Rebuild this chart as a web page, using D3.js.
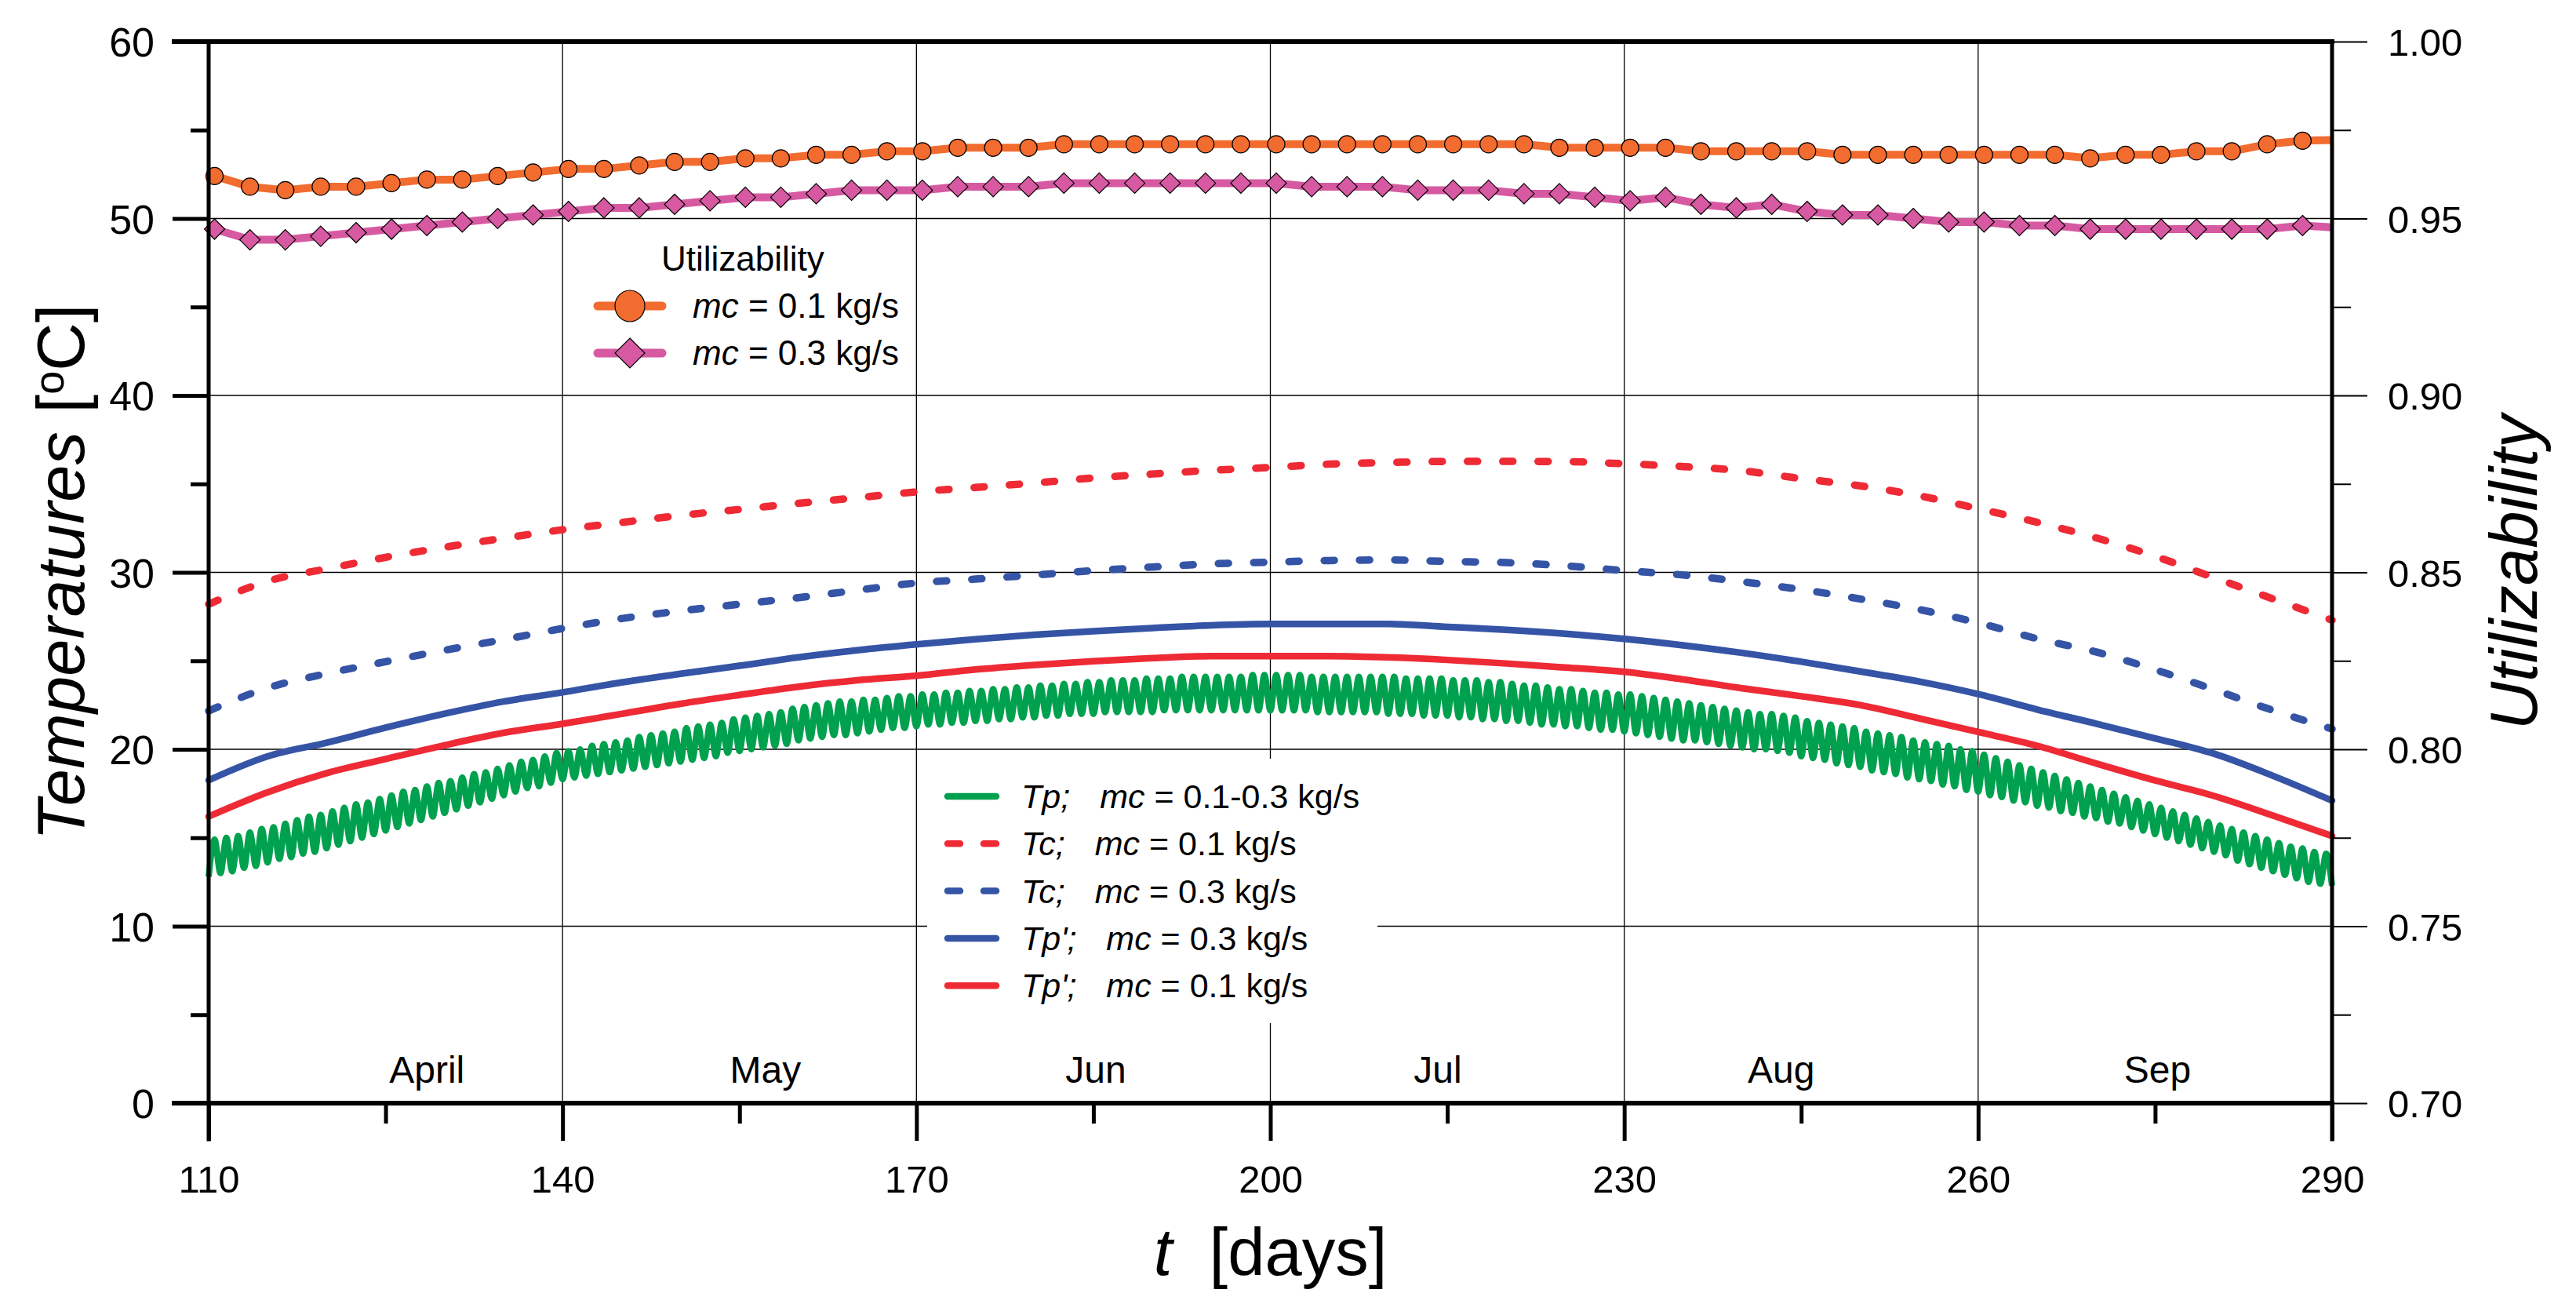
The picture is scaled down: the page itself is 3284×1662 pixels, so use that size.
<!DOCTYPE html>
<html>
<head>
<meta charset="utf-8">
<script src="https://cdn.jsdelivr.net/npm/d3@7"></script>
<style>
  html, body { margin: 0; padding: 0; background: #fff; }
  svg { display: block; }
</style>
</head>
<body>
<div id="chart"></div>
<script>
(function() {
  'use strict';

  // ---- data ----
  // smooth temperature curves, sampled every 5 days from day 110 to 290
  var tDays = d3.range(110, 291, 5);
  var tcMc01 = [28.2, 29.5, 30.2, 30.85, 31.42, 31.93, 32.41, 32.82, 33.22, 33.56, 33.9, 34.22,
    34.55, 34.8, 35.05, 35.34, 35.56, 35.77, 35.93, 36.12, 36.21, 36.27, 36.27, 36.26, 36.14,
    35.98, 35.74, 35.3, 34.89, 34.33, 33.6, 32.83, 31.95, 30.91, 29.7, 28.5, 27.3];
  var tcMc03 = [22.17, 23.47, 24.28, 24.95, 25.6, 26.2, 26.83, 27.39, 27.82, 28.2, 28.57, 28.99,
    29.4, 29.62, 29.85, 30.1, 30.3, 30.48, 30.58, 30.67, 30.7, 30.62, 30.55, 30.37, 30.1,
    29.85, 29.47, 29.03, 28.5, 27.9, 27.15, 26.25, 25.5, 24.5, 23.37, 22.2, 21.15];
  var tpPrimeMc03 = [18.25, 19.6, 20.37, 21.22, 22.01, 22.7, 23.22, 23.78, 24.27, 24.72, 25.2, 25.6,
    25.93, 26.22, 26.47, 26.67, 26.85, 27.01, 27.08, 27.08, 27.08, 26.92, 26.75, 26.53, 26.24,
    25.88, 25.45, 24.95, 24.4, 23.83, 23.12, 22.25, 21.45, 20.62, 19.75, 18.5, 17.1];
  var tpPrimeMc01 = [16.2, 17.57, 18.65, 19.45, 20.23, 20.93, 21.44, 22.0, 22.57, 23.07, 23.54, 23.9,
    24.16, 24.51, 24.77, 24.98, 25.15, 25.27, 25.27, 25.27, 25.2, 25.05, 24.85, 24.62, 24.38,
    23.95, 23.45, 23.0, 22.5, 21.75, 20.98, 20.2, 19.2, 18.24, 17.36, 16.25, 15.1];

  // Tp swings once a day: daily lows at day 110..290, daily highs at day 110.5..289.5
  var tpTroughs = [
    12.8, 13.0, 13.1, 13.3, 13.4, 13.6, 13.8, 13.9, 14.1, 14.2,
    14.4, 14.6, 14.8, 15.0, 15.2, 15.4, 15.6, 15.8, 16.0, 16.2,
    16.4, 16.6, 16.8, 17.0, 17.2, 17.4, 17.6, 17.8, 17.9, 18.1,
    18.3, 18.4, 18.5, 18.6, 18.7, 18.8, 18.9, 19.0, 19.1, 19.2,
    19.3, 19.4, 19.5, 19.6, 19.8, 19.9, 20.0, 20.1, 20.2, 20.3,
    20.5, 20.6, 20.7, 20.8, 20.8, 20.9, 21.0, 21.1, 21.2, 21.2,
    21.3, 21.4, 21.4, 21.5, 21.5, 21.6, 21.6, 21.7, 21.7, 21.8,
    21.8, 21.9, 21.9, 22.0, 22.0, 22.0, 22.1, 22.1, 22.1, 22.1,
    22.1, 22.2, 22.2, 22.2, 22.2, 22.2, 22.2, 22.2, 22.2, 22.2,
    22.2, 22.2, 22.2, 22.2, 22.1, 22.1, 22.1, 22.1, 22.1, 22.1,
    22.0, 22.0, 22.0, 21.9, 21.9, 21.9, 21.8, 21.8, 21.7, 21.7,
    21.6, 21.6, 21.5, 21.4, 21.4, 21.3, 21.3, 21.2, 21.1, 21.1,
    21.0, 20.9, 20.8, 20.7, 20.6, 20.5, 20.5, 20.4, 20.3, 20.2,
    20.1, 20.0, 20.0, 19.9, 19.8, 19.6, 19.5, 19.4, 19.2, 19.1,
    19.0, 18.8, 18.7, 18.6, 18.4, 18.3, 18.2, 18.0, 17.9, 17.7,
    17.6, 17.4, 17.3, 17.1, 17.0, 16.8, 16.7, 16.5, 16.4, 16.2,
    16.1, 15.9, 15.8, 15.6, 15.4, 15.2, 15.0, 14.8, 14.6, 14.4,
    14.2, 14.0, 13.7, 13.5, 13.3, 13.1, 12.9, 12.7, 12.5, 12.4,
    12.3];
  var tpPeaks = [
    14.9, 15.0, 15.1, 15.3, 15.5, 15.6, 15.8, 16.0, 16.2, 16.3,
    16.5, 16.7, 16.9, 17.0, 17.2, 17.4, 17.6, 17.7, 17.9, 18.1,
    18.2, 18.4, 18.6, 18.7, 18.9, 19.1, 19.3, 19.4, 19.6, 19.8,
    19.9, 20.0, 20.2, 20.3, 20.4, 20.5, 20.7, 20.8, 20.9, 21.0,
    21.2, 21.3, 21.4, 21.5, 21.7, 21.8, 21.9, 22.0, 22.1, 22.3,
    22.4, 22.5, 22.6, 22.7, 22.7, 22.8, 22.8, 22.9, 23.0, 23.0,
    23.1, 23.1, 23.2, 23.2, 23.3, 23.3, 23.4, 23.4, 23.5, 23.5,
    23.6, 23.6, 23.7, 23.7, 23.8, 23.8, 23.9, 23.9, 23.9, 24.0,
    24.0, 24.0, 24.1, 24.1, 24.1, 24.1, 24.1, 24.1, 24.2, 24.2,
    24.2, 24.2, 24.2, 24.1, 24.1, 24.1, 24.1, 24.1, 24.1, 24.1,
    24.1, 24.0, 24.0, 24.0, 24.0, 23.9, 23.9, 23.9, 23.8, 23.8,
    23.7, 23.6, 23.6, 23.5, 23.4, 23.4, 23.3, 23.2, 23.2, 23.1,
    23.1, 23.0, 22.9, 22.8, 22.7, 22.6, 22.5, 22.4, 22.3, 22.2,
    22.1, 22.0, 22.0, 21.9, 21.8, 21.6, 21.5, 21.4, 21.3, 21.2,
    21.0, 20.9, 20.8, 20.7, 20.5, 20.4, 20.3, 20.2, 20.0, 19.9,
    19.7, 19.5, 19.3, 19.1, 18.9, 18.7, 18.5, 18.3, 18.1, 17.9,
    17.7, 17.5, 17.3, 17.1, 16.9, 16.7, 16.5, 16.3, 16.1, 15.9,
    15.7, 15.5, 15.3, 15.1, 14.9, 14.7, 14.5, 14.4, 14.2, 14.1];

  // utilizability, one marker every 3 days; the line runs on to day 290
  var utilDays = d3.range(60).map(function(i) { return 110.5 + 3 * i; });
  var util01 = [0.962, 0.959, 0.958, 0.959, 0.959, 0.960, 0.961, 0.961, 0.962, 0.963,
    0.964, 0.964, 0.965, 0.966, 0.966, 0.967, 0.967, 0.968, 0.968, 0.969,
    0.969, 0.970, 0.970, 0.970, 0.971, 0.971, 0.971, 0.971, 0.971, 0.971,
    0.971, 0.971, 0.971, 0.971, 0.971, 0.971, 0.971, 0.971, 0.970, 0.970,
    0.970, 0.970, 0.969, 0.969, 0.969, 0.969, 0.968, 0.968, 0.968, 0.968,
    0.968, 0.968, 0.968, 0.967, 0.968, 0.968, 0.969, 0.969, 0.971, 0.972];
  var util03 = [0.947, 0.944, 0.944, 0.945, 0.946, 0.947, 0.948, 0.949, 0.950, 0.951,
    0.952, 0.953, 0.953, 0.954, 0.955, 0.956, 0.956, 0.957, 0.958, 0.958,
    0.958, 0.959, 0.959, 0.959, 0.960, 0.960, 0.960, 0.960, 0.960, 0.960,
    0.960, 0.959, 0.959, 0.959, 0.958, 0.958, 0.958, 0.957, 0.957, 0.956,
    0.955, 0.956, 0.954, 0.953, 0.954, 0.952, 0.951, 0.951, 0.950, 0.949,
    0.949, 0.948, 0.948, 0.947, 0.947, 0.947, 0.947, 0.947, 0.947, 0.948];
  var utilEnd = {day: 290, mc01: 0.9722, mc03: 0.9475};

  var months = ["April", "May", "Jun", "Jul", "Aug", "Sep"];
  var monthDays = [128.5, 157.2, 185.2, 214.2, 243.3, 275.2];

  var dayTicks = [110, 140, 170, 200, 230, 260, 290];
  var dayMinor = [125, 155, 185, 215, 245, 275];
  var tempTicks = [0, 10, 20, 30, 40, 50, 60];
  var tempMinor = [5, 15, 25, 35, 45, 55];
  var utilTicks = [0.70, 0.75, 0.80, 0.85, 0.90, 0.95, 1.00];
  var utilMinor = [0.725, 0.775, 0.825, 0.875, 0.925, 0.975];

  // ---- colours ----
  var RED = "#ee2a35", BLUE = "#3554a5", GREEN = "#00a14e",
      ORANGE = "#f26b2f", PINK = "#d659a1";
  var FONT = "Arial, 'Liberation Sans', Helvetica, sans-serif";

  var W = 3284, H = 1662;
  var x = d3.scaleLinear().domain([110, 290]).range([266, 2973]);
  var y = d3.scaleLinear().domain([0, 60]).range([1406, 53]);
  var yU = d3.scaleLinear().domain([0.70, 1.00]).range([1406, 53]);

  var svg = d3.select("#chart").append("svg")
    .attr("width", W).attr("height", H)
    .attr("font-family", FONT);

  svg.append("rect").attr("width", W).attr("height", H).attr("fill", "#fff");

  // gridlines
  var grid = svg.append("g").attr("stroke", "#000").attr("stroke-width", 1.3);
  grid.selectAll(".gx").data(dayTicks.slice(1, -1)).enter().append("line")
    .attr("x1", function(d) { return x(d); }).attr("x2", function(d) { return x(d); })
    .attr("y1", y(60)).attr("y2", y(0));
  grid.selectAll(".gy").data(tempTicks.slice(1, -1)).enter().append("line")
    .attr("x1", x(110)).attr("x2", x(290))
    .attr("y1", function(d) { return y(d); }).attr("y2", function(d) { return y(d); });

  // month names
  svg.append("g").selectAll("text").data(months).enter().append("text")
    .attr("x", function(d, i) { return x(monthDays[i]); })
    .attr("y", 1380)
    .attr("text-anchor", "middle")
    .attr("font-size", 48)
    .text(function(d) { return d; });

  // temperature legend box (hides the grid behind it)
  svg.append("rect").attr("x", 1182).attr("y", 967).attr("width", 574).attr("height", 337)
    .attr("fill", "#fff");

  // ---- temperature curves ----
  var tLine = d3.line()
    .x(function(d, i) { return x(tDays[i]); })
    .y(function(d) { return y(d); })
    .curve(d3.curveMonotoneX);

  var tpPoints = [];
  tpTroughs.forEach(function(v, i) {
    tpPoints.push([110 + i, v]);
    if (i < tpPeaks.length) tpPoints.push([110.5 + i, tpPeaks[i]]);
  });
  svg.append("path").datum(tpPoints)
    .attr("fill", "none").attr("stroke", GREEN).attr("stroke-width", 8)
    .attr("stroke-linejoin", "round")
    .attr("d", d3.line()
      .x(function(d) { return x(d[0]); })
      .y(function(d) { return y(d[1]); })
      .curve(d3.curveMonotoneX));

  var tSeries = [
    {values: tcMc01, color: RED, dash: "13,32", width: 9.5},
    {values: tcMc03, color: BLUE, dash: "13,32", width: 9.5},
    {values: tpPrimeMc03, color: BLUE, dash: null, width: 8.5},
    {values: tpPrimeMc01, color: RED, dash: null, width: 8.5}
  ];
  svg.append("g").selectAll("path").data(tSeries).enter().append("path")
    .attr("fill", "none")
    .attr("stroke", function(d) { return d.color; })
    .attr("stroke-width", function(d) { return d.width; })
    .attr("stroke-dasharray", function(d) { return d.dash; })
    .attr("stroke-linecap", "round")
    .attr("d", function(d) { return tLine(d.values); });

  // ---- utilizability ----
  var uLine = d3.line()
    .x(function(d) { return x(d[0]); })
    .y(function(d) { return yU(d[1]); });
  var diamond = function(s) { return "M0," + (-s) + "L" + s + ",0L0," + s + "L" + (-s) + ",0Z"; };

  function drawUtil(values, endValue, color, marker) {
    var pts = values.map(function(v, i) { return [utilDays[i], v]; });
    pts.push([utilEnd.day, endValue]);
    svg.append("path").datum(pts)
      .attr("fill", "none").attr("stroke", color).attr("stroke-width", 10)
      .attr("stroke-linejoin", "round")
      .attr("d", uLine);
    var g = svg.append("g");
    var m = g.selectAll(".m").data(values).enter();
    if (marker === "circle") {
      m.append("circle")
        .attr("cx", function(d, i) { return x(utilDays[i]); })
        .attr("cy", function(d) { return yU(d); })
        .attr("r", 11)
        .attr("fill", color).attr("stroke", "#000").attr("stroke-width", 1.2);
    } else {
      m.append("path")
        .attr("transform", function(d, i) { return "translate(" + x(utilDays[i]) + "," + yU(d) + ")"; })
        .attr("d", diamond(13))
        .attr("fill", color).attr("stroke", "#000").attr("stroke-width", 1.2);
    }
  }
  drawUtil(util01, utilEnd.mc01, ORANGE, "circle");
  drawUtil(util03, utilEnd.mc03, PINK, "diamond");

  // ---- axes ----
  function styleAxis(g, size, width) {
    g.attr("font-size", size).attr("font-family", FONT);
    g.select(".domain").remove();
    g.selectAll("line").attr("stroke", "#000").attr("stroke-width", width);
    g.selectAll("text").attr("fill", "#000");
  }

  var gB = svg.append("g").attr("transform", "translate(0," + y(0) + ")")
    .call(d3.axisBottom(x).tickValues(dayTicks).tickSize(48).tickFormat(d3.format("d")));
  styleAxis(gB, 49, 5);
  gB.selectAll("text").attr("y", 114).attr("dy", null);
  var gBm = svg.append("g").attr("transform", "translate(0," + y(0) + ")")
    .call(d3.axisBottom(x).tickValues(dayMinor).tickSize(26).tickFormat(""));
  styleAxis(gBm, 10, 5);

  var gL = svg.append("g").attr("transform", "translate(" + x(110) + ",0)")
    .call(d3.axisLeft(y).tickValues(tempTicks).tickSize(46).tickFormat(d3.format("d")));
  styleAxis(gL, 52, 5);
  gL.selectAll("text").attr("x", -69).attr("dy", "0.36em");
  var gLm = svg.append("g").attr("transform", "translate(" + x(110) + ",0)")
    .call(d3.axisLeft(y).tickValues(tempMinor).tickSize(23).tickFormat(""));
  styleAxis(gLm, 10, 5);

  var gR = svg.append("g").attr("transform", "translate(" + x(290) + ",0)")
    .call(d3.axisRight(yU).tickValues(utilTicks).tickSize(45).tickFormat(d3.format(".2f")));
  styleAxis(gR, 49, 2);
  gR.selectAll("text").attr("x", 71).attr("dy", "0.36em");
  var gRm = svg.append("g").attr("transform", "translate(" + x(290) + ",0)")
    .call(d3.axisRight(yU).tickValues(utilMinor).tickSize(24).tickFormat(""));
  styleAxis(gRm, 10, 2);

  // frame
  var frame = svg.append("g").attr("stroke", "#000").attr("stroke-linecap", "square");
  frame.append("line").attr("x1", 222).attr("x2", x(290)).attr("y1", y(60)).attr("y2", y(60)).attr("stroke-width", 6);
  frame.append("line").attr("x1", 222).attr("x2", x(290)).attr("y1", y(0)).attr("y2", y(0)).attr("stroke-width", 6);
  frame.append("line").attr("x1", x(110)).attr("x2", x(110)).attr("y1", y(60)).attr("y2", y(0) + 46).attr("stroke-width", 5);
  frame.append("line").attr("x1", x(290)).attr("x2", x(290)).attr("y1", y(60)).attr("y2", y(0) + 46).attr("stroke-width", 5);

  // axis titles
  var yTitle = svg.append("text")
    .attr("transform", "translate(107," + ((y(0) + y(60)) / 2) + ") rotate(-90)")
    .attr("text-anchor", "middle").attr("font-size", 85);
  yTitle.append("tspan").attr("font-style", "italic").text("Temperatures");
  yTitle.append("tspan").text(" [");
  yTitle.append("tspan").attr("font-size", 54).attr("dy", -26).text("o");
  yTitle.append("tspan").attr("dy", 26).text("C]");

  svg.append("text")
    .attr("transform", "translate(3234," + ((y(0) + y(60)) / 2) + ") rotate(-90)")
    .attr("text-anchor", "middle").attr("font-size", 85).attr("font-style", "italic")
    .text("Utilizability");

  var xTitle = svg.append("text")
    .attr("x", (x(110) + x(290)) / 2).attr("y", 1625)
    .attr("text-anchor", "middle").attr("font-size", 85)
    .attr("xml:space", "preserve");
  xTitle.append("tspan").attr("font-style", "italic").text("t");
  xTitle.append("tspan").text("  [days]");

  // ---- utilizability legend ----
  var legU = svg.append("g").attr("font-size", 44);
  legU.append("text").attr("x", 843).attr("y", 345).text("Utilizability");
  var uLeg = [
    {label: "0.1", color: ORANGE, marker: "circle"},
    {label: "0.3", color: PINK, marker: "diamond"}
  ];
  uLeg.forEach(function(d, i) {
    var cy = 390 + i * 60;
    legU.append("line").attr("x1", 762).attr("x2", 844).attr("y1", cy).attr("y2", cy)
      .attr("stroke", d.color).attr("stroke-width", 11).attr("stroke-linecap", "round");
    if (d.marker === "circle") {
      legU.append("ellipse").attr("cx", 803).attr("cy", cy).attr("rx", 19).attr("ry", 20)
        .attr("fill", d.color).attr("stroke", "#000").attr("stroke-width", 1.2);
    } else {
      legU.append("path").attr("transform", "translate(803," + cy + ")").attr("d", diamond(19))
        .attr("fill", d.color).attr("stroke", "#000").attr("stroke-width", 1.2);
    }
    var t = legU.append("text").attr("x", 883).attr("y", cy + 15);
    t.append("tspan").attr("font-style", "italic").text("mc");
    t.append("tspan").text(" = " + d.label + " kg/s");
  });

  // ---- temperature legend ----
  var legT = svg.append("g").attr("font-size", 43);
  var tLeg = [
    {name: "Tp;", value: "0.1-0.3", color: GREEN, dash: null},
    {name: "Tc;", value: "0.1", color: RED, dash: "16,30"},
    {name: "Tc;", value: "0.3", color: BLUE, dash: "16,30"},
    {name: "Tp';", value: "0.3", color: BLUE, dash: null},
    {name: "Tp';", value: "0.1", color: RED, dash: null}
  ];
  tLeg.forEach(function(d, i) {
    var cy = 1015 + i * 60.3;
    legT.append("line").attr("x1", 1208).attr("x2", 1270).attr("y1", cy).attr("y2", cy)
      .attr("stroke", d.color).attr("stroke-width", 8.5).attr("stroke-linecap", "round")
      .attr("stroke-dasharray", d.dash);
    var t = legT.append("text").attr("x", 1302).attr("y", cy + 15);
    t.append("tspan").attr("font-style", "italic").text(d.name);
    t.append("tspan").attr("font-style", "italic").attr("dx", 38).text("mc");
    t.append("tspan").text(" = " + d.value + " kg/s");
  });
}());
</script>
</body>
</html>
